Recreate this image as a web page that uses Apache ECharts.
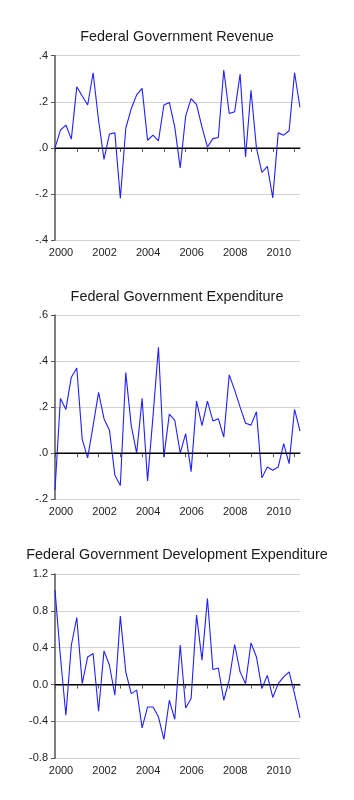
<!DOCTYPE html>
<html>
<head>
<meta charset="utf-8">
<script src="https://cdn.jsdelivr.net/npm/echarts@6/dist/echarts.min.js"></script>
<style>
html,body{margin:0;padding:0;background:#fff;}
#c{width:354px;height:800px;}
</style>
</head>
<body>
<div id="c"></div>
<script>
// Quarterly observations 2000Q1 .. 2011Q2
const startYear = 2000;
const nObs = 46;
const categories = [];
for (let i = 0; i < nObs; i++) {
  categories.push((startYear + Math.floor(i / 4)) + 'Q' + (i % 4 + 1));
}

const titles = [
  'Federal Government Revenue',
  'Federal Government Expenditure',
  'Federal Government Development Expenditure'
];

const revenue = [0.00, 0.077, 0.099, 0.038, 0.265, 0.225, 0.186, 0.326, 0.12, -0.05,
  0.06, 0.065, -0.22, 0.085, 0.17, 0.23, 0.258, 0.033, 0.055, 0.03,
  0.186, 0.197, 0.09, -0.087, 0.138, 0.214, 0.188, 0.09, 0.004, 0.04,
  0.045, 0.338, 0.149, 0.157, 0.32, -0.04, 0.25, 0.0, -0.107, -0.08,
  -0.217, 0.065, 0.055, 0.074, 0.326, 0.175];

const expenditure = [-0.16, 0.238, 0.19, 0.33, 0.37, 0.06, -0.02, 0.12, 0.264, 0.15,
  0.10, -0.096, -0.14, 0.35, 0.12, 0.0, 0.238, -0.12, 0.16, 0.46,
  -0.016, 0.17, 0.143, 0.0, 0.085, -0.08, 0.226, 0.12, 0.226, 0.14,
  0.15, 0.07, 0.34, 0.274, 0.2, 0.13, 0.122, 0.18, -0.107, -0.06,
  -0.074, -0.06, 0.042, -0.045, 0.19, 0.096];

const devExpenditure = [1.025, 0.30, -0.333, 0.427, 0.728, 0.01, 0.30, 0.337, -0.29, 0.366,
  0.21, -0.116, 0.743, 0.138, -0.098, -0.06, -0.47, -0.243, -0.243, -0.35,
  -0.594, -0.17, -0.377, 0.43, -0.254, -0.152, 0.754, 0.265, 0.935, 0.163,
  0.18, -0.17, 0.05, 0.435, 0.138, 0.01, 0.453, 0.30, -0.043, 0.10,
  -0.14, 0.01, 0.083, 0.138, -0.1, -0.36];

const yRanges = [
  {min: -0.4, max: 0.4, interval: 0.2},
  {min: -0.2, max: 0.6, interval: 0.2},
  {min: -0.8, max: 1.2, interval: 0.4}
];

const seriesData = [revenue, expenditure, devExpenditure];

function fmtShort(v) {
  const a = Math.round(Math.abs(v) * 10);
  return (v < -1e-9 ? '-' : '') + '.' + a;
}
function fmtLong(v) {
  const r = Math.round(v * 10) / 10;
  return (r === 0 ? 0 : r).toFixed(1);
}

const gridTops = [55.7, 315, 574];
const gridH = 184.3;
const titleTops = [25, 285, 543];
const font = '"Liberation Sans", Arial, sans-serif';

const option = {
  backgroundColor: '#fff',
  animation: false,
  title: titles.map((t, i) => ({
    text: t, left: 'center', top: titleTops[i],
    textStyle: {fontSize: 14.4, fontWeight: 'normal', color: '#1a1a1a', fontFamily: font}
  })),
  grid: gridTops.map(t => ({left: 55, right: 54, top: t, height: gridH, containLabel: false})),
  xAxis: gridTops.map((t, i) => ({
    type: 'category', gridIndex: i, data: categories, boundaryGap: false,
    axisLine: {show: true, lineStyle: {color: '#555', width: 1.5}},
    axisTick: {show: true, length: 4, lineStyle: {color: '#555', width: 1},
      interval: (idx, v) => v.endsWith('Q1')},
    axisLabel: {
      interval: (idx, v) => v.endsWith('Q1') && (parseInt(v.slice(0, 4)) % 2 === 0),
      formatter: v => v.slice(0, 4),
      fontSize: 11, color: '#222', fontFamily: font, margin: 7,
      padding: [0, 0, 0, 12]
    },
    splitLine: {show: false}
  })),
  yAxis: yRanges.map((r, i) => ({
    type: 'value', gridIndex: i, min: r.min, max: r.max, interval: r.interval,
    axisLine: {show: true, lineStyle: {color: '#555', width: 1.5}},
    axisTick: {show: true, length: 4, lineStyle: {color: '#555', width: 1}},
    axisLabel: {formatter: i === 2 ? fmtLong : fmtShort, fontSize: 11, color: '#222',
      fontFamily: font, margin: 7},
    splitLine: {show: true, lineStyle: {color: '#d4d4d4', width: 1}}
  })),
  series: seriesData.map((d, i) => ({
    type: 'line', xAxisIndex: i, yAxisIndex: i, data: d,
    symbol: 'none', smooth: false,
    lineStyle: {color: '#2020ff', width: 1.1},
    markLine: {
      silent: true, symbol: 'none', label: {show: false},
      lineStyle: {color: '#000', width: 1.2, type: 'solid'},
      data: [{yAxis: 0}]
    },
    z: 3
  }))
};

const chart = echarts.init(document.getElementById('c'), null, {renderer: 'canvas'});
chart.setOption(option);
</script>
</body>
</html>
